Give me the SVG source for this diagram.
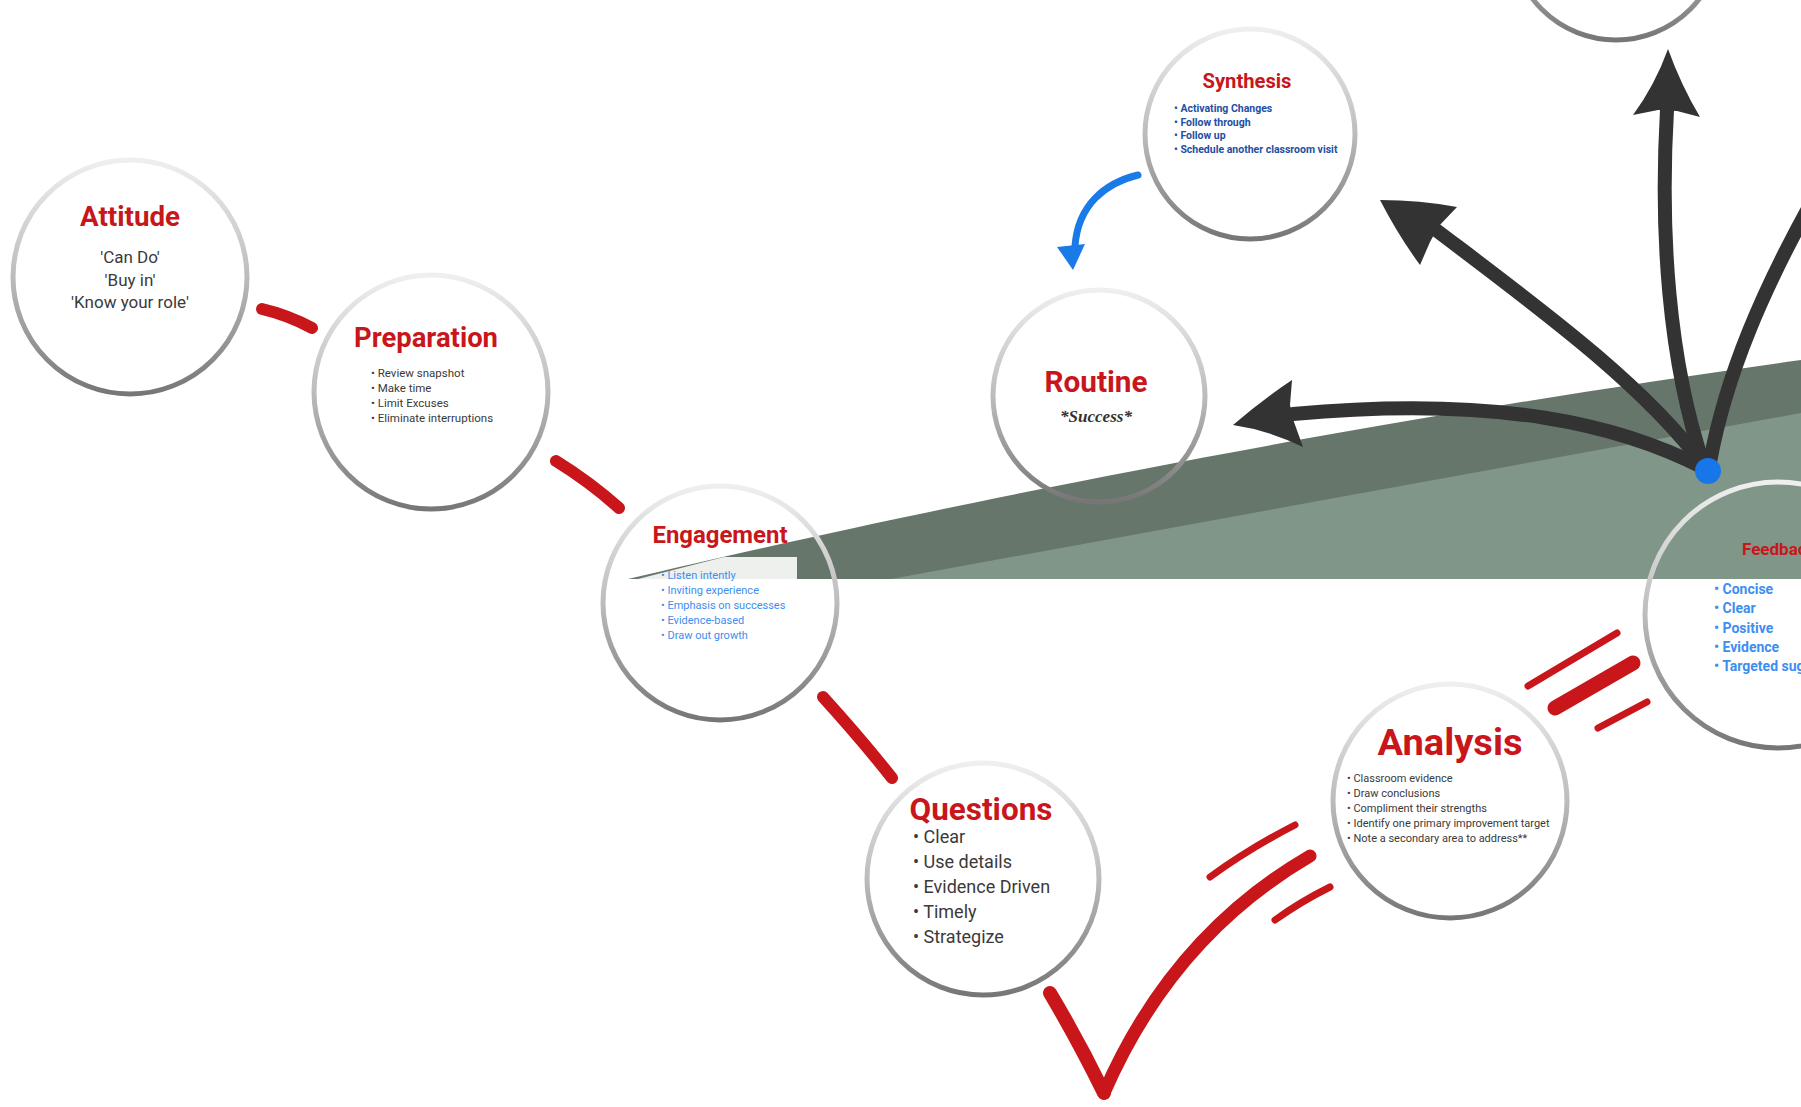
<svg xmlns="http://www.w3.org/2000/svg" width="1801" height="1107" viewBox="0 0 1801 1107">
<defs>
<linearGradient id="ring" x1="0" y1="0" x2="0" y2="1">
<stop offset="0" stop-color="#efefef"/>
<stop offset="0.5" stop-color="#bcbcbc"/>
<stop offset="1" stop-color="#767676"/>
</linearGradient>
<style>
.ring{fill:none;stroke:url(#ring);stroke-width:5}
.ttl{font-family:Roboto,"Liberation Sans",sans-serif;font-weight:bold;fill:#c8161b;text-anchor:middle}
.body{font-family:Roboto,"Liberation Sans",sans-serif;fill:#3a3a3a}
.red{fill:none;stroke:#c8161b;stroke-linecap:round}
.dark{fill:none;stroke:#333333;stroke-width:14;stroke-linecap:round}
.head{fill:#333333}
</style>
</defs>
<rect x="0" y="0" width="1801" height="1107" fill="#ffffff"/>

<g id="ground">
<path d="M628,579 C900,515 1300,430 1801,360 L1801,579 Z" fill="#66766a"/>
<path d="M891,579 L1801,413 L1801,579 Z" fill="#809688"/>
<path d="M638,579 L724,557 L797,557 L797,579 Z" fill="#eef0ee"/>
</g>

<g id="top-circle"><circle class="ring" cx="1616" cy="-65" r="105"/></g>

<g id="attitude">
<circle class="ring" cx="130" cy="277" r="117"/>
<text class="ttl" x="130" y="226" font-size="28" textLength="100" lengthAdjust="spacingAndGlyphs">Attitude</text>
<text class="body" font-size="17" text-anchor="middle"><tspan x="130" y="263">'Can Do'</tspan><tspan x="130" y="286">'Buy in'</tspan><tspan x="130" y="308">'Know your role'</tspan></text>
</g>

<g id="preparation">
<circle class="ring" cx="431" cy="392" r="117"/>
<text class="ttl" x="426" y="347" font-size="27" textLength="144" lengthAdjust="spacingAndGlyphs">Preparation</text>
<text class="body" font-size="11.5" fill="#444"><tspan x="371" y="377">• Review snapshot</tspan><tspan x="371" y="392">• Make time</tspan><tspan x="371" y="407">• Limit Excuses</tspan><tspan x="371" y="422">• Eliminate interruptions</tspan></text>
</g>

<g id="engagement">
<circle class="ring" cx="720" cy="603" r="117"/>
<text class="ttl" x="720" y="543" font-size="24" textLength="135" lengthAdjust="spacingAndGlyphs">Engagement</text>
<text class="body" font-size="11" style="fill:#3d8ef0"><tspan x="661" y="579">• Listen intently</tspan><tspan x="661" y="594">• Inviting experience</tspan><tspan x="661" y="609">• Emphasis on successes</tspan><tspan x="661" y="624">• Evidence-based</tspan><tspan x="661" y="639">• Draw out growth</tspan></text>
</g>

<g id="questions">
<circle class="ring" cx="983" cy="879" r="116"/>
<text class="ttl" x="981" y="820" font-size="31" textLength="143" lengthAdjust="spacingAndGlyphs">Questions</text>
<text class="body" font-size="18"><tspan x="913" y="843">• Clear</tspan><tspan x="913" y="868">• Use details</tspan><tspan x="913" y="893">• Evidence Driven</tspan><tspan x="913" y="918">• Timely</tspan><tspan x="913" y="943">• Strategize</tspan></text>
</g>

<g id="routine">
<circle class="ring" cx="1099" cy="396" r="106"/>
<text class="ttl" x="1096" y="392" font-size="30" textLength="103" lengthAdjust="spacingAndGlyphs">Routine</text>
<text x="1096" y="422" font-family="'Liberation Serif',serif" font-style="italic" font-weight="bold" font-size="17" fill="#333" text-anchor="middle">*Success*</text>
</g>

<g id="synthesis">
<circle class="ring" cx="1250" cy="134" r="105"/>
<text class="ttl" x="1247" y="88" font-size="21" textLength="89" lengthAdjust="spacingAndGlyphs">Synthesis</text>
<text class="body" font-size="10.5" font-weight="bold" style="fill:#1e4fa3"><tspan x="1174" y="112">• Activating Changes</tspan><tspan x="1174" y="125.7">• Follow through</tspan><tspan x="1174" y="139.4">• Follow up</tspan><tspan x="1174" y="153">• Schedule another classroom visit</tspan></text>
</g>

<g id="analysis">
<circle class="ring" cx="1450" cy="801" r="117"/>
<text class="ttl" x="1450" y="755" font-size="37" textLength="145" lengthAdjust="spacingAndGlyphs">Analysis</text>
<text class="body" font-size="11" fill="#555"><tspan x="1347" y="782">• Classroom evidence</tspan><tspan x="1347" y="797">• Draw conclusions</tspan><tspan x="1347" y="812">• Compliment their strengths</tspan><tspan x="1347" y="827">• Identify one primary improvement target</tspan><tspan x="1347" y="842">• Note a secondary area to address**</tspan></text>
</g>

<g id="feedback">
<circle class="ring" cx="1778" cy="615" r="133"/>
<text x="1742" y="555" font-family="Roboto,'Liberation Sans',sans-serif" font-weight="bold" font-size="17" fill="#c8161b">Feedback</text>
<text class="body" font-size="14" font-weight="bold" style="fill:#3d8ef0"><tspan x="1714" y="594">• Concise</tspan><tspan x="1714" y="613">• Clear</tspan><tspan x="1714" y="633">• Positive</tspan><tspan x="1714" y="652">• Evidence</tspan><tspan x="1714" y="671">• Targeted suggestions</tspan></text>
</g>

<g id="connectors">
<path class="red" stroke-width="12" d="M262,309 Q288,315 312,328"/>
<path class="red" stroke-width="12" d="M556,461 Q590,482 619,508"/>
<path class="red" stroke-width="12" d="M823,697 Q862,740 892,778"/>
<path class="red" stroke-width="14" d="M1050,993 Q1078,1040 1104,1093"/>
<path class="red" stroke-width="13" d="M1104,1093 C1140,1010 1200,920 1310,856"/>
<path class="red" stroke-width="7" d="M1210,877 Q1250,848 1295,825"/>
<path class="red" stroke-width="7" d="M1275,920 Q1300,902 1330,887"/>
<path class="red" stroke-width="7" d="M1528,686 L1617,633"/>
<path class="red" stroke-width="15" d="M1555,708 L1633,663"/>
<path class="red" stroke-width="7" d="M1598,728 L1647,702"/>

<path class="dark" d="M1704,468 C1620,425 1500,395 1293,414"/>
<path class="head" d="M1233,425 Q1262,400 1292,380 L1290,405 L1294,422 L1303,447 Q1268,430 1233,425 Z"/>
<path class="dark" d="M1436,230 C1535,305 1645,385 1704,466"/>
<path class="head" d="M1380,200 Q1420,200 1457,207 L1438,227 L1430,242 L1420,265 Q1398,235 1380,200 Z"/>
<path class="dark" d="M1667,110 C1660,230 1668,360 1704,466"/>
<path class="head" d="M1668,49 Q1655,85 1633,115 L1658,110 L1677,111 L1700,117 Q1681,85 1668,49 Z"/>
<path class="dark" d="M1710,462 C1725,380 1760,290 1830,170"/>
<circle cx="1708" cy="471" r="13" fill="#1877e8"/>

<path d="M1138,175 C1105,183 1078,205 1075,246" fill="none" stroke="#1a7ae8" stroke-width="7" stroke-linecap="round"/>
<path d="M1057,247 L1085,244 L1073,270 Z" fill="#1a7ae8"/>
</g>
</svg>
